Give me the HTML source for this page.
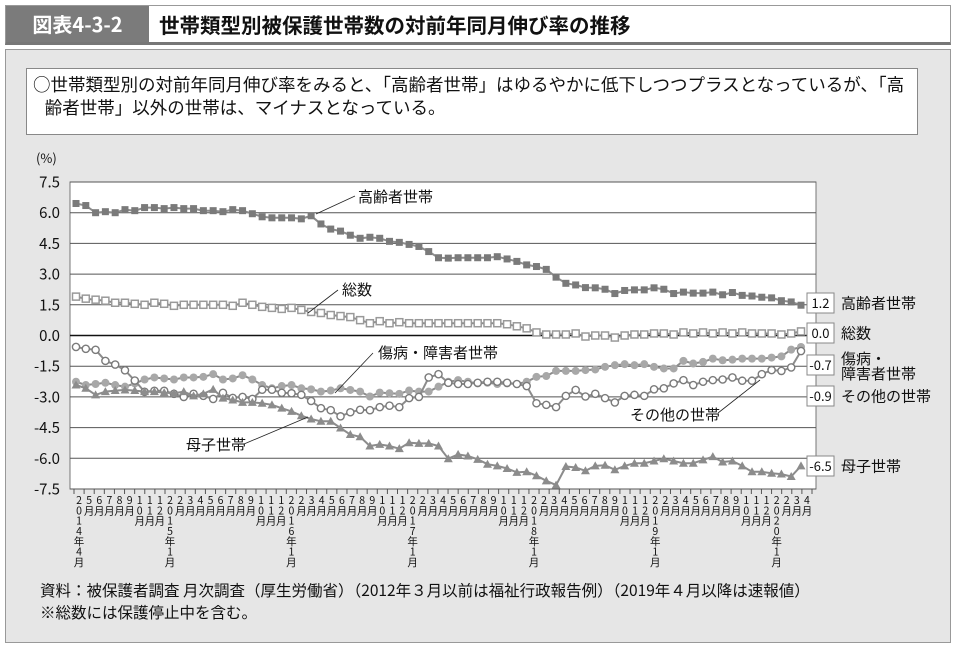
<!DOCTYPE html>
<html><head><meta charset="utf-8">
<style>
html,body{margin:0;padding:0;background:#fff;}
body{width:956px;height:648px;position:relative;overflow:hidden;font-family:"Noto Sans CJK JP","Liberation Sans",sans-serif;}
.hdr{position:absolute;left:5px;top:5px;width:944px;height:36px;border:1px solid #999;border-bottom:3px solid #777;background:#fff;}
.hdr .tag{position:absolute;left:0;top:0;width:143px;height:36px;background:#7b7b7b;color:#fff;font-weight:bold;font-size:20px;line-height:36px;text-align:center;}
.hdr .ttl{position:absolute;left:153px;top:0;line-height:36px;font-weight:bold;font-size:20.5px;color:#111;}
.panel{position:absolute;left:5px;top:49px;width:944px;height:592px;border:1px solid #999;background:#e6e6e6;}
.sum{position:absolute;left:20px;top:18px;width:884px;height:61px;border:1px solid #888;background:#fff;font-size:17.5px;line-height:23px;color:#111;padding:4px 0 0 6px;white-space:nowrap;}
svg{position:absolute;left:0;top:0;}
.foot{position:absolute;left:40px;top:579px;font-size:15.5px;line-height:22px;color:#111;white-space:nowrap;}
</style></head><body>
<div class="hdr">
 <div class="tag">図表4-3-2</div>
 <div class="ttl">世帯類型別被保護世帯数の対前年同月伸び率の推移</div>
</div>
<div class="panel">
 <div class="sum">○世帯類型別の対前年同月伸び率をみると、「高齢者世帯」はゆるやかに低下しつつプラスとなっているが、「高<br>&nbsp;&nbsp;&nbsp;齢者世帯」以外の世帯は、マイナスとなっている。</div>
</div>
<svg id="chart" width="956" height="648"></svg>
<div class="foot">資料：被保護者調査 月次調査（厚生労働省）（2012年３月以前は福祉行政報告例）（2019年４月以降は速報値）<br>※総数には保護停止中を含む。</div>
<script>
const yTicks=[7.5,6.0,4.5,3.0,1.5,0.0,-1.5,-3.0,-4.5,-6.0,-7.5];
const yTickLabels=["7.5","6.0","4.5","3.0","1.5","0.0","-1.5","-3.0","-4.5","-6.0","-7.5"];
const elderly=[6.45,6.35,6.0,6.05,6.0,6.15,6.1,6.25,6.25,6.2,6.25,6.2,6.2,6.1,6.1,6.05,6.15,6.1,5.95,5.8,5.75,5.75,5.75,5.7,5.85,5.45,5.2,5.1,4.9,4.75,4.8,4.75,4.6,4.55,4.45,4.35,
4.1,3.8,3.78,3.8,3.8,3.8,3.8,3.85,3.74,3.62,3.45,3.37,3.23,2.85,2.55,2.47,2.34,2.33,2.26,2.05,2.2,2.23,2.23,2.33,2.26,2.05,2.12,2.07,2.07,2.12,1.99,2.1,1.96,1.93,1.87,1.84,1.7,1.64,1.48];
const total=[1.9,1.8,1.75,1.7,1.6,1.6,1.55,1.5,1.6,1.55,1.45,1.5,1.5,1.5,1.5,1.5,1.45,1.6,1.5,1.4,1.35,1.3,1.35,1.25,1.15,1.1,1.0,0.95,0.9,0.75,0.6,0.7,0.6,0.65,0.6,0.6,
0.6,0.6,0.6,0.6,0.6,0.6,0.6,0.6,0.55,0.45,0.35,0.15,0.05,0.05,0.05,0.1,-0.05,0.0,0.0,-0.1,0.0,0.05,0.05,0.1,0.1,0.05,0.15,0.1,0.15,0.1,0.15,0.1,0.15,0.1,0.1,0.1,0.05,0.1,0.2];
const sick=[-2.26,-2.42,-2.37,-2.31,-2.42,-2.5,-2.34,-2.15,-2.05,-2.1,-2.15,-2.05,-2.05,-2.02,-1.89,-2.15,-2.1,-1.94,-2.15,-2.42,-2.58,-2.47,-2.42,-2.58,-2.63,-2.74,-2.69,-2.58,-2.66,-2.74,-2.98,-2.79,-2.82,-2.85,-2.69,-2.74,
-2.74,-2.5,-2.26,-2.18,-2.26,-2.34,-2.31,-2.37,-2.34,-2.37,-2.26,-2.02,-1.98,-1.73,-1.73,-1.73,-1.69,-1.66,-1.53,-1.45,-1.4,-1.45,-1.4,-1.53,-1.61,-1.61,-1.24,-1.37,-1.29,-1.13,-1.21,-1.18,-1.13,-1.13,-1.13,-1.08,-1.02,-0.69,-0.56];
const other=[-0.56,-0.65,-0.7,-1.24,-1.42,-1.7,-2.2,-2.75,-2.7,-2.7,-2.85,-3.0,-2.85,-2.95,-3.1,-2.8,-3.05,-3.0,-3.1,-2.65,-2.65,-2.8,-2.82,-2.9,-3.2,-3.55,-3.65,-3.95,-3.75,-3.63,-3.65,-3.5,-3.43,-3.5,-3.06,-3.0,
-2.05,-1.89,-2.31,-2.37,-2.37,-2.31,-2.26,-2.26,-2.31,-2.37,-2.47,-3.31,-3.39,-3.5,-2.95,-2.66,-2.98,-2.85,-3.06,-3.27,-2.95,-2.9,-2.95,-2.63,-2.58,-2.34,-2.18,-2.42,-2.26,-2.18,-2.15,-2.05,-2.21,-2.21,-1.89,-1.69,-1.73,-1.56,-0.76];
const mother=[-2.42,-2.58,-2.9,-2.74,-2.69,-2.66,-2.69,-2.74,-2.74,-2.79,-2.82,-2.74,-2.95,-2.85,-2.63,-3.06,-3.15,-3.27,-3.27,-3.31,-3.39,-3.55,-3.71,-3.92,-4.08,-4.19,-4.19,-4.52,-4.84,-4.95,-5.4,-5.32,-5.4,-5.53,-5.24,-5.27,
-5.27,-5.4,-6.02,-5.81,-5.89,-6.05,-6.29,-6.37,-6.5,-6.69,-6.66,-6.85,-7.1,-7.31,-6.4,-6.45,-6.61,-6.37,-6.34,-6.56,-6.37,-6.24,-6.24,-6.13,-6.02,-6.13,-6.24,-6.24,-6.08,-5.92,-6.18,-6.13,-6.37,-6.66,-6.66,-6.73,-6.77,-6.89,-6.37];
const endLabels=["1.2","0.0","-0.7","-0.9","-6.5"];
const seriesNames=["高齢者世帯","総数","傷病・障害者世帯","その他の世帯","母子世帯"];
const startYear=2014, startMonth=4, monthCount=73;

const NS="http://www.w3.org/2000/svg";
const svg=document.getElementById('chart');
const PL=70,PR=816,PT=182,PB=489;
function yPos(v){return PT+(7.5-v)*(PB-PT)/15;}
function xPos(i,n){return 76+i*(725/(n-1));}
function mk(tag,attrs,parent){const e=document.createElementNS(NS,tag);for(const k in attrs)e.setAttribute(k,attrs[k]);(parent||svg).appendChild(e);return e;}

const plot=mk('rect',{x:PL,y:PT,width:PR-PL,height:PB-PT,fill:'#fff',stroke:'#777','stroke-width':1});



yTicks.forEach((t,k)=>{
  const y=yPos(t);
  const g=mk('line',{x1:PL,x2:PR,y1:y,y2:y,stroke:t===0?'#111':'#555','stroke-width':t===0?1.6:1});
  
  
  const tx=mk('text',{x:60,y:y+5.5,'text-anchor':'end','font-size':15,fill:'#111'});
  tx.textContent=yTickLabels[k];
  
  
});
const unit=mk('text',{x:36,y:163,'font-size':13,fill:'#111'});unit.textContent='(%)';



const lstep=(PR-PL-8)/monthCount;
for(let i=0;i<=monthCount;i++){
  const x=PL+4+i*lstep;
  const tk=mk('line',{x1:x,x2:x,y1:PB,y2:PB+5,stroke:'#555','stroke-width':1});
  
  
}
for(let i=0;i<monthCount;i++){
  const m=((startMonth-1+i)%12)+1;
  const yr=startYear+Math.floor((startMonth-1+i)/12);
  let chars;
  if(i===0||m===1){chars=(String(yr)+'年'+m+'月').split('');}
  else{chars=(String(m)+'月').split('');}
  const x=PL+4+(i+0.5)*lstep;
  const t=mk('text',{'font-size':10.5,fill:'#111','text-anchor':'middle'});
  
  
  chars.forEach((c,k)=>{const s=mk('tspan',{x:x,y:504+k*10.3},t);s.textContent=c;});
}

function drawSeries(data,name,marker){
  const n=data.length;
  const g=mk('g',{});
  
  
  const pts=data.map((v,i)=>xPos(i,n).toFixed(1)+','+yPos(v).toFixed(1)).join(' ');
  mk('polyline',{points:pts,fill:'none',stroke:'#8c8c8c','stroke-width':2},g);
  data.forEach((v,i)=>{
    const x=xPos(i,n),y=yPos(v);let e;
    if(marker==='sq')e=mk('rect',{x:x-3.5,y:y-3.5,width:7,height:7,fill:'#7a7a7a'},g);
    else if(marker==='osq')e=mk('rect',{x:x-3.5,y:y-3.5,width:7,height:7,fill:'#fff',stroke:'#999','stroke-width':1.5},g);
    else if(marker==='dot')e=mk('circle',{cx:x,cy:y,r:4,fill:'#a8a8a8'},g);
    else if(marker==='odot')e=mk('circle',{cx:x,cy:y,r:3.6,fill:'#fff',stroke:'#7a7a7a','stroke-width':1.4},g);
    else e=mk('polygon',{points:`${x},${y-4.5} ${x-4.5},${y+3.5} ${x+4.5},${y+3.5}`,fill:'#8c8c8c'},g);
    
    
  });
}
drawSeries(total,'series-total','osq');
drawSeries(elderly,'series-elderly','sq');
drawSeries(sick,'series-sick-disabled','dot');
drawSeries(other,'series-other','odot');
drawSeries(mother,'series-mother-child','tri');

function callout(txt,tx,ty,x1,y1,x2,y2,name){
  const l=mk('line',{x1:x1,y1:y1,x2:x2,y2:y2,stroke:'#222','stroke-width':0.8});
  
  
  const t=mk('text',{x:tx,y:ty,'font-size':15,fill:'#111'});
  t.textContent=txt;
  
  
}
callout(seriesNames[0],358,202,355,196,316,214,'elderly-callout');
callout(seriesNames[1],342,295,338,290,308,313,'total-callout');
callout(seriesNames[2],378,358,373,353,335,393,'sick-callout');
callout(seriesNames[4],186,450,244,444,308,417,'mother-callout');
callout(seriesNames[3],630,420,718,413,760,380,'other-callout');

const boxY=[303,333,365,396,466];
endLabels.forEach((lb,k)=>{
  const y=boxY[k];
  const b=mk('rect',{x:807,y:y-10,width:27,height:20,fill:'#fff',stroke:'#888','stroke-width':1});
  
  
  const t=mk('text',{x:820.5,y:y+5,'text-anchor':'middle','font-size':13,fill:'#111'});
  t.textContent=lb;
  
  
  const nm=mk('text',{x:841,y:y+5.5,'font-size':15,fill:'#111'});
  
  
  if(k===2){
    const a=mk('tspan',{x:841,y:y-1},nm);a.textContent='傷病・';
    const c=mk('tspan',{x:841,y:y+14},nm);c.textContent='障害者世帯';
  } else nm.textContent=seriesNames[k];
});
</script>
</body></html>
